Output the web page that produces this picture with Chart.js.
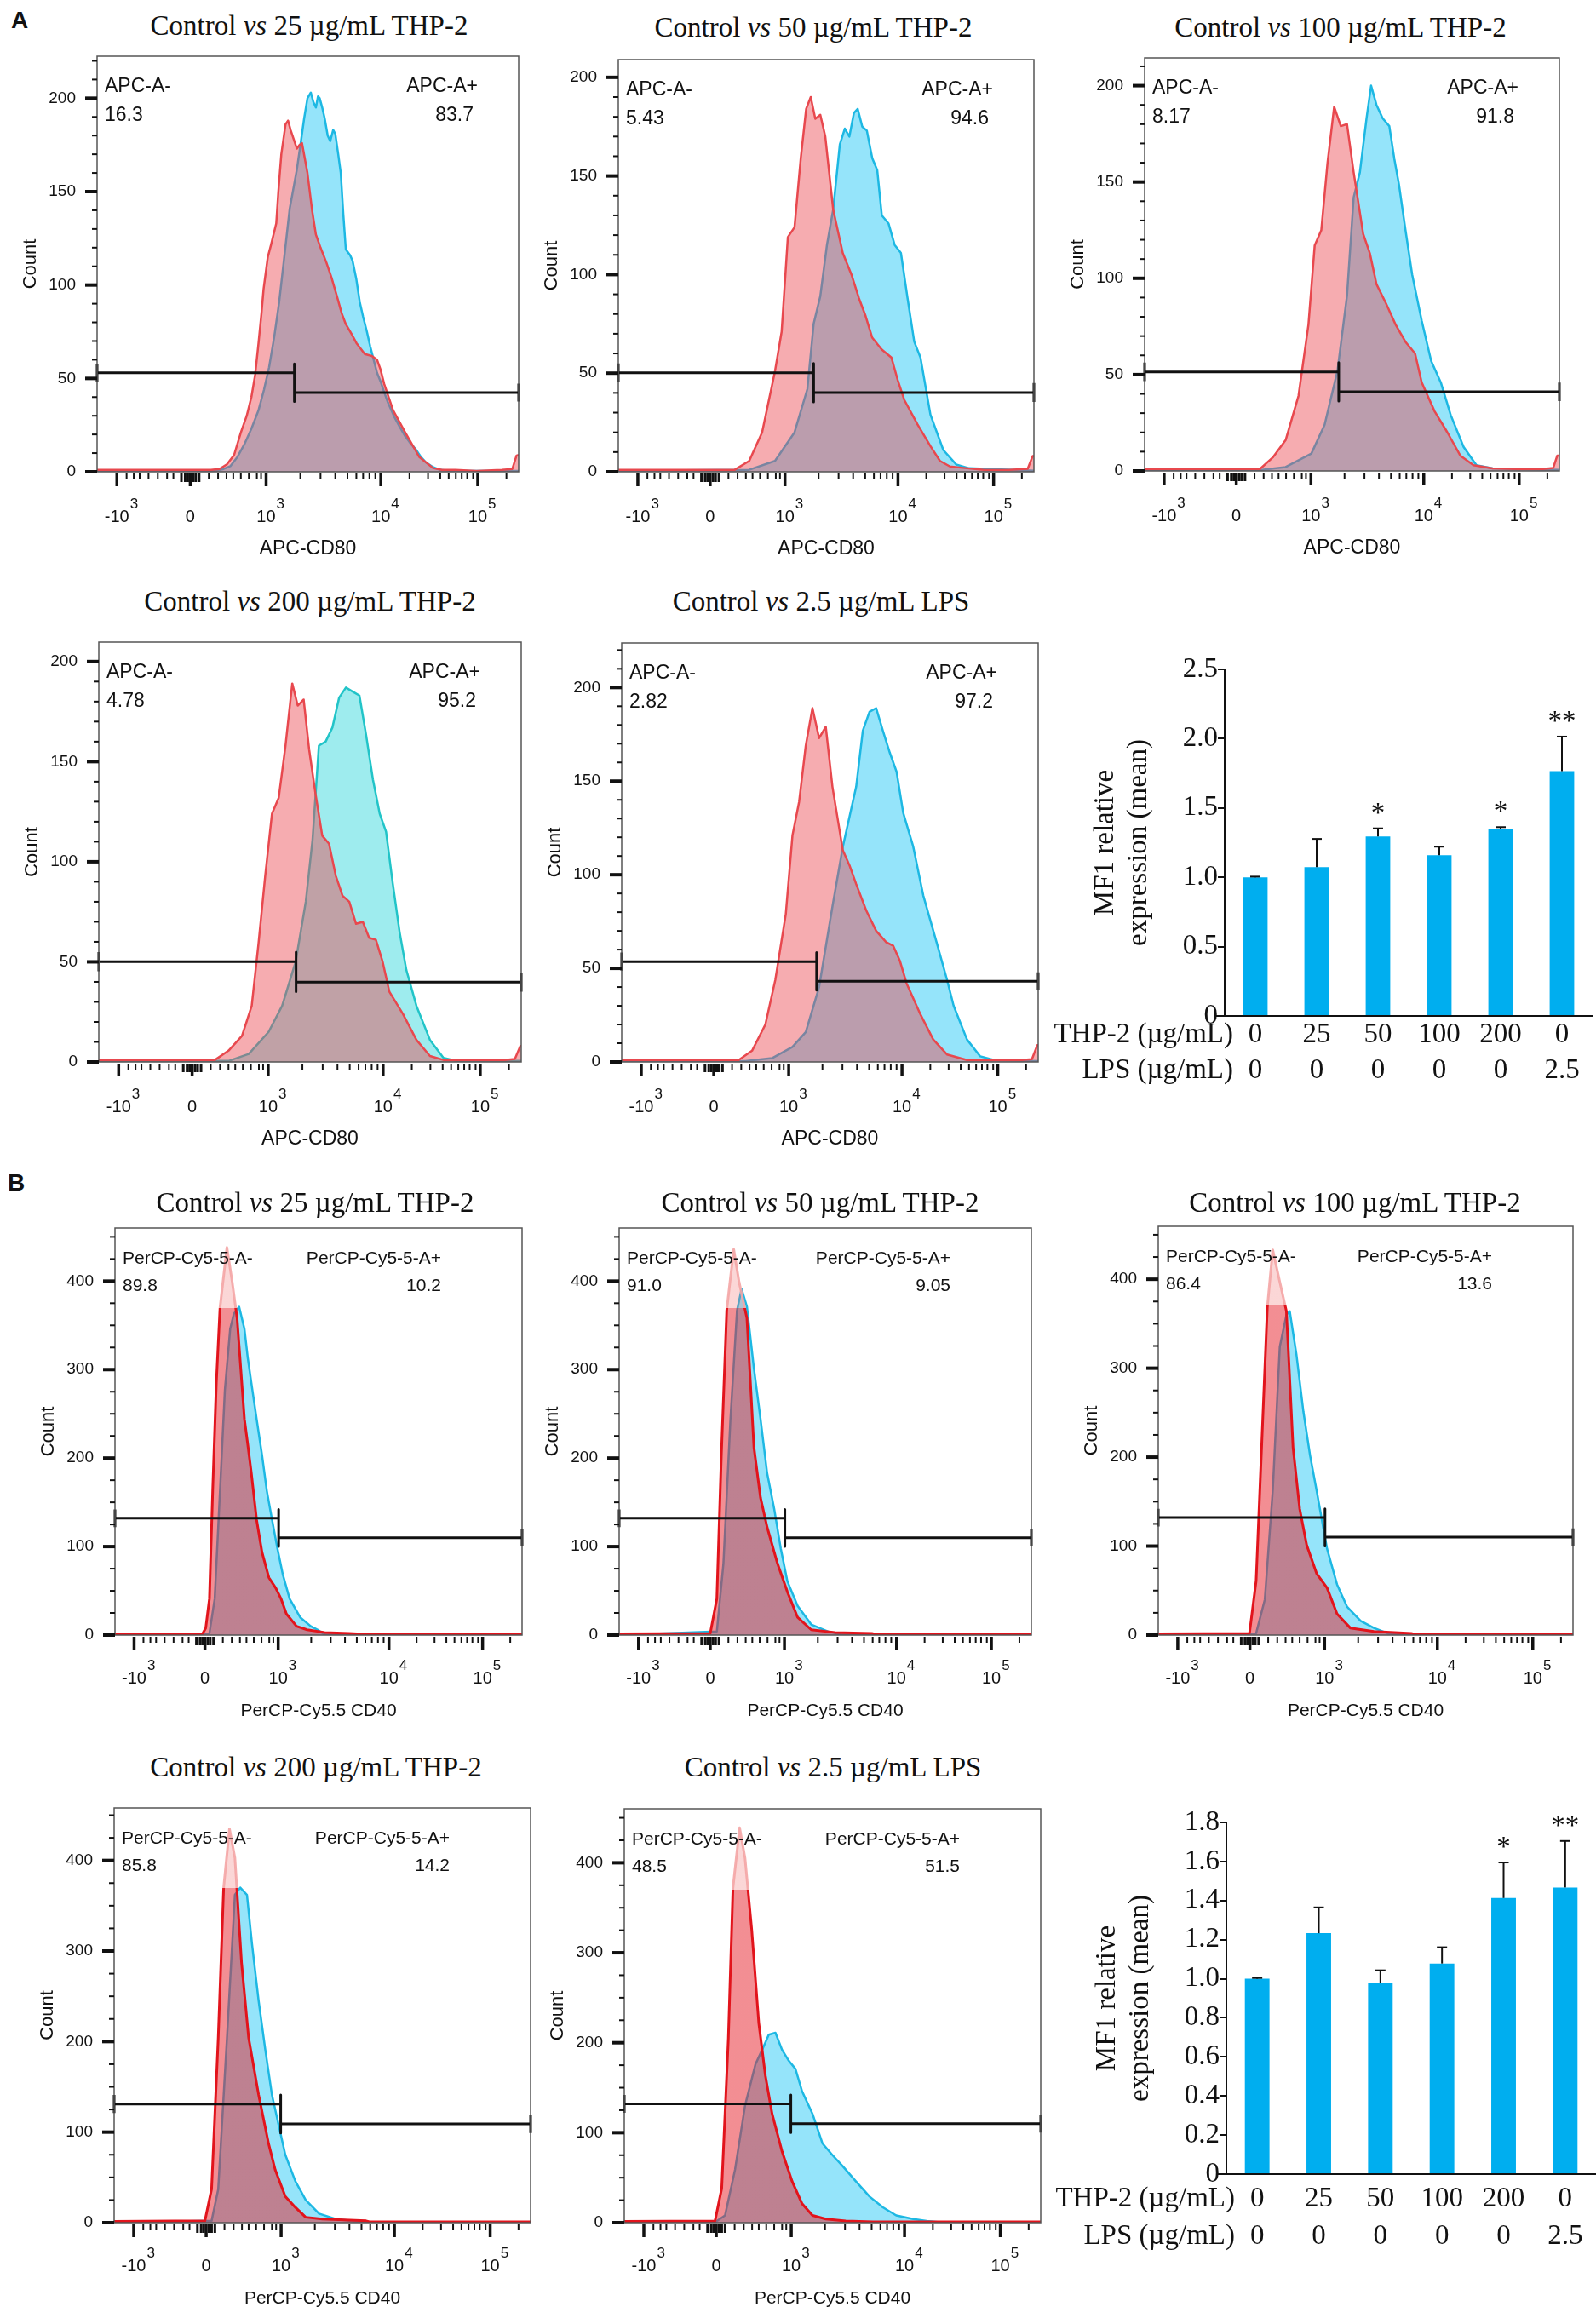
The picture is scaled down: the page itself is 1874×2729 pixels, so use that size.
<!DOCTYPE html>
<html>
<head>
<meta charset="utf-8">
<title>THP-2 CD80 / CD40 flow cytometry</title>
<script src="https://cdn.jsdelivr.net/npm/chart.js@4.4.1/dist/chart.umd.min.js"></script>
<style>
  body { margin: 0; background: #fff; }
  #page { position: relative; width: 1874px; height: 2729px; overflow: hidden; background: #fff; }
  .cv { position: absolute; }
  .ttl { position: absolute; transform: translate(-50%, -50%); font: 33px 'Liberation Serif', 'Times New Roman', serif; white-space: nowrap; color: #111; }
  .lbl { position: absolute; font: bold 28px 'Liberation Sans', Arial, sans-serif; color: #111; }
</style>
</head>
<body>
<div id="page">
  <div class="lbl" style="left:13px;top:8px">A</div>
  <div class="lbl" style="left:9px;top:1373px">B</div>
</div>
<script>
// ---------- x axis of the flow histograms (biexponential display, channel 0-1000) ----------
const xMajorAt = [47, 221, 401, 673, 903];
const xMajorBase = ['-10', '0', '10', '10', '10'];
const xMajorSup = ['3', '', '3', '4', '5'];
const xMinorAt = [70, 87, 101, 122, 144, 166, 181, 265, 287, 307, 323, 341, 360, 379, 389, 482, 530, 565, 594, 615, 631, 646, 660, 741, 785, 814, 834, 851, 865, 878, 892, 971];
const xZeroAt = [200, 209, 215, 228, 234, 242];

const titleDoses = ['25 µg/mL THP-2', '50 µg/mL THP-2', '100 µg/mL THP-2', '200 µg/mL THP-2', '2.5 µg/mL LPS'];

// ---------- A: APC-CD80 histograms (control = red, treated = blue) ----------
const a1CtrlX = [0,270,290,308,325,341,355,366,375,383,390,395,405,412,425,430,437,447,453,459,474,480,486,499,510,519,530,544,556,569,580,590,603,615,635,652,664,672,681,702,731,764,797,818,850,900,960,985,995,1000];
const a1CtrlY = [1,1,1.5,4,9,21,30,40,52,69,85,98,115,121,133,150,170,186,188,183,173,175,176,160,140,127,120,112,104,94,85,79,74,69,63,62,60,55,47,33,21,8,2,1,1,0.5,1,1.5,8.7,9];
const a1TrtX = [0,280,300,316,333,350,366,383,396,408,420,432,444,457,466,474,483,491,499,507,513,519,524,528,534,540,547,553,560,565,572,578,584,590,600,606,615,623,631,640,648,656,664,673,682,690,706,718,731,744,756,768,780,797,814,840,1000];
const a1TrtY = [0,0.5,1.5,3,8,15,23,33,44,56,72,91,115,141,152,162,176,189,200,203,198,195,201,200,195,189,180,177,183,181,170,160,138,119,116,113,103,91,83,75,67,60,53,48,42,37,29,24,19,15,12,8,5,2.5,1,0.5,0.5];

const a2CtrlX = [0,280,315,346,377,393,408,424,439,452,463,474,486,498,517,540,561,579,595,611,634,657,673,688,720,751,774,798,829,880,940,985,997,1000];
const a2CtrlY = [1,1,5.5,20,51,71,119,124,159,184,190,179,181,170,133,111,100,88,79,68,62,58,46,36.5,24,13,5.5,2.7,2,1,1,1.5,8,8];
const a2TrtX = [0,315,377,424,455,470,486,502,517,533,545,556,567,576,587,598,611,623,634,650,665,680,696,712,727,751,782,813,844,1000];
const a2TrtY = [0.5,1,5.5,20,42,75,89,115,133,166,174,170,182,184,175,173,159,153,130,126,115,111,88,66,58,29,11,3.7,1.8,0.5];

const a3CtrlX = [0,278,309,340,371,395,410,426,441,457,473,488,504,527,543,559,582,605,629,652,668,699,730,761,793,839,900,960,985,995,1000];
const a3CtrlY = [1,1,7,16,39,76,117,125,160,189,179,180,155,123,113,97,87,76,67,61,46,31,20,8,3,1.3,1,1,1.5,8,8];
const a3TrtX = [0,278,340,402,434,465,488,504,519,535,546,559,574,590,602,613,629,645,668,691,714,738,769,800,839,1000];
const a3TrtY = [0.5,0.5,2,9,24,52,91,142,155,183,200,190,183,179,162,149,125,102,78,57,46,29,12.5,3,1.3,0.5];

const a4CtrlX = [0,275,307,339,362,378,394,410,426,442,458,471,485,498,513,529,545,561,577,593,609,625,640,656,672,688,720,752,784,816,900,960,985,998,1000];
const a4CtrlY = [1,1,5.6,13,28,59,93,124,132,158,189,178,181,156,134,113,109,93,83,80,69,70,62,61,50,35,24,11,3,1,1,1,1.5,8,8];
const a4TrtX = [0,307,355,402,434,466,490,506,521,537,553,569,585,601,617,633,649,665,680,696,712,728,752,784,816,847,1000];
const a4TrtY = [0.5,0.5,4,15,28,50,80,111,158,160,167,182,187,185,183,163,141,124,115,89,65,46,28,11,2,0.5,0.5];

const a5CtrlX = [0,281,313,345,369,394,410,426,442,458,474,490,506,531,547,563,587,611,635,652,668,684,716,748,781,829,900,960,985,998,1000];
const a5CtrlY = [1,1,6,20,44,79,121,139,169,189,173,179,147,113,105,95,81,70,64,62,54,42,26,12,4,1,1,1,1.5,9,9];
const a5TrtX = [0,297,361,410,442,474,506,531,547,563,579,595,611,627,644,660,676,700,724,756,781,797,829,861,894,1000];
const a5TrtY = [0.5,0.5,2,8,16,40,83,115,131,147,177,187,189,177,165,155,133,115,89,64,44,30,12,3,1,0.5];

const aGateSplit = [468, 470, 468, 467, 468];
const aGateNegY = [53, 50.2, 51.4, 50.1, 53.6];
const aGatePosY = [42.4, 40.2, 41.1, 39.9, 43.1];
const aNegPct = ['16.3', '5.43', '8.17', '4.78', '2.82'];
const aPosPct = ['83.7', '94.6', '91.8', '95.2', '97.2'];

// ---------- B: PerCP-Cy5.5 CD40 histograms ----------
const b1CtrlX = [0,215,223,232,240,249,258,275,288,300,309,318,326,335,348,361,378,395,408,421,446,472,515,575,614,1000];
const b1CtrlY = [1.5,1.5,8,41,163,285,370,438,399,358,301,244,216,183,130,94,65,53,41,24,10,6,3,2,1,1];
const b1TrtX = [0,232,245,258,270,283,292,305,318,326,335,348,361,373,386,399,412,429,455,481,498,515,1000];
const b1TrtY = [0,2,41,163,277,346,363,371,346,314,285,244,204,163,130,98,69,41,20,10,6,0.5,0.5];

const b2CtrlX = [0,221,237,248,261,278,291,310,327,343,359,384,408,433,466,523,613,621,1000];
const b2CtrlY = [1.5,2,41,204,367,436,399,358,212,155,122,81,49,20,6,3,2,1,1];
const b2TrtX = [0,237,253,270,286,297,310,327,343,359,376,392,408,433,466,507,539,1000];
const b2TrtY = [0,4,81,244,367,391,371,301,244,183,143,98,61,33,12,4,0.5,0.5];

const b3CtrlX = [0,220,236,252,263,276,293,309,325,341,358,382,407,431,463,520,610,618,1000];
const b3CtrlY = [1.5,2,61,243,368,433,397,364,211,142,101,69,53,24,8,4,2,1,1];
const b3TrtX = [0,236,257,276,293,309,317,333,350,366,382,407,431,455,488,520,553,585,1000];
const b3TrtY = [0,2,40,162,324,360,364,316,251,202,162,97,57,32,16,8,2,0.5,0.5];

const b4CtrlX = [0,218,234,250,263,277,290,306,323,347,371,387,411,435,460,500,605,613,1000];
const b4CtrlY = [1.5,2,37,204,370,435,403,287,204,141,87,58,29,17,6,4,2,1,1];
const b4TrtX = [0,234,250,271,290,303,319,331,347,363,379,395,411,435,460,492,532,597,1000];
const b4TrtY = [0,2,37,204,362,370,362,308,245,191,141,108,75,46,25,10,4,0.5,0.5];

const b5CtrlX = [0,218,234,250,261,277,290,306,323,339,355,379,403,427,452,484,532,597,1000];
const b5CtrlY = [1.5,2,38,205,372,439,405,326,222,163,121,79,46,21,8,4,2,1,1];
const b5TrtX = [0,218,242,266,290,315,331,347,363,379,395,411,427,452,476,500,524,556,589,621,653,694,726,758,1000];
const b5TrtY = [0,0.5,8,59,130,176,192,209,211,192,180,171,146,121,88,75,63,46,29,17,8,4,2,0.5,0.5];

const bSaturation = 370;   // control trace is saturated (pale) above this count
const bGateSplit = [402, 402, 402, 400, 400];
const bGateNegY = [132, 132, 132, 131, 132];
const bGatePosY = [110, 110, 110, 109, 110];
const bNegPct = ['89.8', '91.0', '86.4', '85.8', '48.5'];
const bPosPct = ['10.2', '9.05', '13.6', '14.2', '51.5'];

// ---------- MFI bar charts ----------
const thpDose = ['0', '25', '50', '100', '200', '0'];
const lpsDose = ['0', '0', '0', '0', '0', '2.5'];
const aMfi = [1.0, 1.074, 1.294, 1.16, 1.345, 1.766];
const aSd = [0.005, 0.203, 0.059, 0.061, 0.017, 0.249];
const aSig = ['', '', '*', '', '*', '**'];
const bMfi = [1.0, 1.233, 0.978, 1.078, 1.413, 1.467];
const bSd = [0.004, 0.132, 0.065, 0.083, 0.182, 0.238];
const bSig = ['', '', '', '', '*', '**'];

// ---------- layout ----------
const layoutA = [
  { L: 114, T: 66, R: 609, y0: 554, ymax: 222.5, tx: 363, ty: 30 },
  { L: 726, T: 70, R: 1214, y0: 554, ymax: 209, tx: 955, ty: 32 },
  { L: 1344, T: 68, R: 1831, y0: 553, ymax: 214.4, tx: 1574, ty: 32 },
  { L: 116, T: 754, R: 612, y0: 1247, ymax: 209.7, tx: 364, ty: 706 },
  { L: 730, T: 755, R: 1219, y0: 1247, ymax: 223.8, tx: 964, ty: 706 }
];
const layoutB = [
  { L: 135, T: 1442, R: 613, y0: 1920, ymax: 460, tx: 370, ty: 1412 },
  { L: 727, T: 1442, R: 1211, y0: 1920, ymax: 460, tx: 963, ty: 1412 },
  { L: 1360, T: 1440, R: 1847, y0: 1920, ymax: 459.5, tx: 1591, ty: 1412 },
  { L: 134, T: 2123, R: 623, y0: 2610, ymax: 458, tx: 371, ty: 2075 },
  { L: 733, T: 2124, R: 1222, y0: 2610, ymax: 460, tx: 978, ty: 2075 }
];

const SANS = '"Liberation Sans", Arial, sans-serif';
const SERIF = '"Liberation Serif", "Times New Roman", serif';
const page = document.getElementById('page');

function pts(xs, ys) {
  return xs.map((x, i) => ({ x: x, y: ys[i] }));
}

function gatePts(split, negY, posY, cap) {
  return [
    { x: 0, y: negY - cap }, { x: 0, y: negY + cap }, { x: 0, y: null },
    { x: 0, y: negY }, { x: split, y: negY }, { x: split, y: null },
    { x: split, y: negY + cap }, { x: split, y: posY - cap }, { x: split, y: null },
    { x: split, y: posY }, { x: 1000, y: posY }, { x: 1000, y: null },
    { x: 1000, y: posY - cap }, { x: 1000, y: posY + cap }
  ];
}

function addCanvas(left, top, w, h) {
  const c = document.createElement('canvas');
  c.width = w; c.height = h;
  c.className = 'cv';
  c.style.left = left + 'px'; c.style.top = top + 'px';
  c.style.width = w + 'px'; c.style.height = h + 'px';
  page.appendChild(c);
  return c;
}

function addTitle(x, y, dose) {
  const d = document.createElement('div');
  d.className = 'ttl';
  d.style.left = x + 'px'; d.style.top = y + 'px';
  d.appendChild(document.createTextNode('Control '));
  const i = document.createElement('i');
  i.textContent = 'vs';
  d.appendChild(i);
  d.appendChild(document.createTextNode(' ' + dose));
  page.appendChild(d);
}

// pale fill above the saturation level, solid below
function capGrad(ctx, below, above) {
  const c = ctx.chart, a = c.chartArea;
  if (!a) return below;
  const py = c.scales.y.getPixelForValue(bSaturation);
  const f = Math.min(1, Math.max(0, (py - a.top) / (a.bottom - a.top)));
  const g = c.ctx.createLinearGradient(0, a.top, 0, a.bottom);
  g.addColorStop(0, above); g.addColorStop(f, above);
  g.addColorStop(f, below); g.addColorStop(1, below);
  return g;
}

const flowDeco = {
  id: 'flowDeco',
  afterDraw(chart, args, o) {
    const { ctx, chartArea: a, scales: { x, y } } = chart;
    ctx.save();
    ctx.strokeStyle = '#555'; ctx.lineWidth = 1.5;
    ctx.strokeRect(a.left, a.top, a.right - a.left, a.bottom - a.top);

    // y ticks
    ctx.strokeStyle = '#111'; ctx.fillStyle = '#111';
    ctx.font = '19px ' + SANS;
    ctx.textAlign = 'right'; ctx.textBaseline = 'middle';
    for (let v = 0; v <= o.ymax; v += o.minor) {
      const py = y.getPixelForValue(v);
      const major = v % o.major === 0;
      ctx.lineWidth = major ? 4 : 2;
      ctx.beginPath(); ctx.moveTo(a.left, py); ctx.lineTo(a.left - (major ? 14 : 6), py); ctx.stroke();
      if (major) ctx.fillText(String(v), a.left - 25, py);
    }

    // x ticks
    const tick = (v, len, lw) => {
      const px = x.getPixelForValue(v);
      ctx.lineWidth = lw;
      ctx.beginPath(); ctx.moveTo(px, a.bottom + 2); ctx.lineTo(px, a.bottom + 2 + len); ctx.stroke();
    };
    xMinorAt.forEach(v => tick(v, 7, 2));
    xZeroAt.forEach(v => tick(v, 10, 3));
    xMajorAt.forEach(v => tick(v, 15, 3.5));

    xMajorAt.forEach((v, i) => {
      const px = x.getPixelForValue(v);
      ctx.font = '20px ' + SANS;
      ctx.textAlign = 'center';
      ctx.fillText(xMajorBase[i], px, a.bottom + o.baseDy);
      if (xMajorSup[i]) {
        const wb = ctx.measureText(xMajorBase[i]).width;
        ctx.font = '17px ' + SANS;
        ctx.textAlign = 'left';
        ctx.fillText(xMajorSup[i], px + wb / 2 + 1, a.bottom + o.supDy);
      }
    });

    // axis titles
    ctx.textAlign = 'center';
    ctx.font = o.xTitleSize + 'px ' + SANS;
    ctx.fillText(o.xTitle, (a.left + a.right) / 2, a.bottom + o.xTitleDy);
    ctx.save();
    ctx.translate(a.left - 78, (a.top + a.bottom) / 2);
    ctx.rotate(-Math.PI / 2);
    ctx.font = '22px ' + SANS;
    ctx.fillText('Count', 0, 0);
    ctx.restore();

    // gate labels
    ctx.font = o.gateSize + 'px ' + SANS;
    ctx.textAlign = 'left';
    ctx.fillText(o.negName, a.left + 9, a.top + 36);
    ctx.fillText(o.negPct, a.left + 9, a.top + o.pctDy);
    ctx.textAlign = 'right';
    ctx.fillText(o.posName, a.right - o.posNameRight, a.top + 36);
    ctx.fillText(o.posPct, a.right - o.posPctRight, a.top + o.pctDy);
    ctx.restore();
  }
};

const PADL = 110, PADT = 12, PADR = 22, PADB = 118;

function flowPanel(p, ctrl, trt, gate, style, deco) {
  const w = p.R - p.L + PADL + PADR;
  const h = p.y0 - p.T + PADT + PADB;
  const cv = addCanvas(p.L - PADL, p.T - PADT, w, h);
  new Chart(cv, {
    type: 'line',
    data: {
      datasets: [
        { data: ctrl, borderColor: style.ctrlLine, backgroundColor: style.ctrlFill, borderWidth: style.ctrlWidth, fill: 'origin', order: 1 },
        { data: trt, borderColor: style.trtLine, backgroundColor: style.trtFill, borderWidth: 2.5, fill: 'origin', order: 2 },
        { data: gate, borderColor: '#111', borderWidth: 3, fill: false, order: 0, clip: false, spanGaps: false }
      ]
    },
    options: {
      responsive: false,
      animation: false,
      devicePixelRatio: 1,
      events: [],
      layout: { padding: { left: PADL, top: PADT, right: PADR, bottom: PADB } },
      elements: { line: { tension: 0, borderJoinStyle: 'round' }, point: { radius: 0 } },
      scales: {
        x: { type: 'linear', min: 0, max: 1000, display: false },
        y: { min: 0, max: p.ymax, display: false }
      },
      plugins: { legend: { display: false }, tooltip: { enabled: false }, flowDeco: Object.assign({ ymax: p.ymax }, deco) }
    },
    plugins: [flowDeco]
  });
  addTitle(p.tx, p.ty, deco.dose);
}

const styleA = { ctrlLine: '#E8484E', ctrlFill: 'rgba(236,70,80,0.45)', ctrlWidth: 2.5, trtLine: '#1DB8E3', trtFill: 'rgba(20,195,245,0.45)' };
const styleA4 = Object.assign({}, styleA, { trtLine: '#22C4C8', trtFill: 'rgba(40,212,218,0.45)' });
const styleB = {
  ctrlLine: ctx => capGrad(ctx, '#E2141C', 'rgba(244,165,165,0.9)'),
  ctrlFill: ctx => capGrad(ctx, 'rgba(230,30,40,0.5)', 'rgba(240,110,110,0.28)'),
  ctrlWidth: 3, trtLine: '#1DB8E3', trtFill: 'rgba(20,195,245,0.45)'
};

const aCtrl = [pts(a1CtrlX, a1CtrlY), pts(a2CtrlX, a2CtrlY), pts(a3CtrlX, a3CtrlY), pts(a4CtrlX, a4CtrlY), pts(a5CtrlX, a5CtrlY)];
const aTrt = [pts(a1TrtX, a1TrtY), pts(a2TrtX, a2TrtY), pts(a3TrtX, a3TrtY), pts(a4TrtX, a4TrtY), pts(a5TrtX, a5TrtY)];
const bCtrl = [pts(b1CtrlX, b1CtrlY), pts(b2CtrlX, b2CtrlY), pts(b3CtrlX, b3CtrlY), pts(b4CtrlX, b4CtrlY), pts(b5CtrlX, b5CtrlY)];
const bTrt = [pts(b1TrtX, b1TrtY), pts(b2TrtX, b2TrtY), pts(b3TrtX, b3TrtY), pts(b4TrtX, b4TrtY), pts(b5TrtX, b5TrtY)];

layoutA.forEach((p, i) => {
  flowPanel(p, aCtrl[i], aTrt[i], gatePts(aGateSplit[i], aGateNegY[i], aGatePosY[i], 4.8),
    i === 3 ? styleA4 : styleA,
    { dose: titleDoses[i], major: 50, minor: 10, negName: 'APC-A-', posName: 'APC-A+', negPct: aNegPct[i], posPct: aPosPct[i],
      posNameRight: 48, posPctRight: 53, pctDy: 70, gateSize: 23, xTitle: 'APC-CD80', xTitleSize: 23, xTitleDy: 91, baseDy: 53, supDy: 38 });
});
layoutB.forEach((p, i) => {
  flowPanel(p, bCtrl[i], bTrt[i], gatePts(bGateSplit[i], bGateNegY[i], bGatePosY[i], 10), styleB,
    { dose: titleDoses[i], major: 100, minor: 25, negName: 'PerCP-Cy5-5-A-', posName: 'PerCP-Cy5-5-A+', negPct: bNegPct[i], posPct: bPosPct[i],
      posNameRight: 95, posPctRight: 95, pctDy: 68, gateSize: 21, xTitle: 'PerCP-Cy5.5 CD40', xTitleSize: 21, xTitleDy: 89, baseDy: 51, supDy: 36 });
});

// ---------- bar charts ----------
const barDeco = {
  id: 'barDeco',
  afterDatasetsDraw(chart, args, o) {
    const { ctx, chartArea: a, scales: { x, y } } = chart;
    ctx.save();
    ctx.strokeStyle = '#111'; ctx.fillStyle = '#111'; ctx.lineWidth = 2;
    o.means.forEach((m, i) => {
      const px = x.getPixelForValue(i);
      const pTop = y.getPixelForValue(m);
      const pErr = y.getPixelForValue(m + o.sds[i]);
      ctx.beginPath(); ctx.moveTo(px, pTop); ctx.lineTo(px, pErr); ctx.stroke();
      ctx.beginPath(); ctx.moveTo(px - 6, pErr); ctx.lineTo(px + 6, pErr); ctx.stroke();
      if (o.sig[i]) {
        ctx.font = '33px ' + SERIF;
        ctx.textAlign = 'center'; ctx.textBaseline = 'alphabetic';
        ctx.fillText(o.sig[i], px, pErr - 8);
      }
    });
    // x axis line runs a little past the y axis
    ctx.beginPath(); ctx.moveTo(a.left - 10, a.bottom); ctx.lineTo(a.left, a.bottom); ctx.stroke();
    // row headers of the two-line category labels
    ctx.font = '33px ' + SERIF;
    ctx.textAlign = 'right'; ctx.textBaseline = 'middle';
    ctx.fillText('THP-2 (µg/mL)', a.left + 10, a.bottom + o.row1);
    ctx.fillText('LPS (µg/mL)', a.left + 10, a.bottom + o.row2);
    // two-line y title
    const mid = (a.top + a.bottom) / 2;
    ['MF1 relative', 'expression (mean)'].forEach((t, k) => {
      ctx.save();
      ctx.translate(a.left - (k === 0 ? 140 : 101), mid);
      ctx.rotate(-Math.PI / 2);
      ctx.textAlign = 'center';
      ctx.fillText(t, 0, 0);
      ctx.restore();
    });
    ctx.restore();
  }
};

function barPanel(b, means, sds, sig, yMax, yStep) {
  const cv = addCanvas(b.left, b.top, b.w, b.h);
  const labels = thpDose.map((t, i) => [t, lpsDose[i]]);
  new Chart(cv, {
    type: 'bar',
    data: { labels: labels, datasets: [{ data: means, backgroundColor: '#00AEEF', barPercentage: 0.4, categoryPercentage: 1 }] },
    options: {
      responsive: false,
      animation: false,
      devicePixelRatio: 1,
      events: [],
      layout: { padding: { left: 0, top: b.axisTop - b.top, right: b.left + b.w - b.axisRight, bottom: 0 } },
      scales: {
        x: {
          grid: { display: false, drawTicks: false },
          border: { display: true, color: '#111', width: 2 },
          ticks: { color: '#111', padding: b.tickPad, font: { family: SERIF, size: 33, lineHeight: b.lineH }, maxRotation: 0, autoSkip: false },
          afterFit: s => { s.height = b.top + b.h - b.axisBottom; }
        },
        y: {
          min: 0, max: yMax,
          grid: { drawOnChartArea: false, drawTicks: true, tickLength: 8, color: '#111', lineWidth: 2 },
          border: { display: true, color: '#111', width: 2 },
          ticks: { stepSize: yStep, color: '#111', padding: 0, font: { family: SERIF, size: 33 },
                   callback: v => (v === 0 ? '0' : Number(v).toFixed(1)) },
          afterFit: s => { s.width = b.axisLeft - b.left; }
        }
      },
      plugins: { legend: { display: false }, tooltip: { enabled: false },
                 barDeco: { means: means, sds: sds, sig: sig, row1: b.row1, row2: b.row2 } }
    },
    plugins: [barDeco]
  });
}

barPanel({ left: 1220, top: 756, w: 654, h: 532, axisLeft: 1438, axisTop: 786, axisBottom: 1193, axisRight: 1870,
           tickPad: 2, lineH: 1.25, row1: 22.6, row2: 64 }, aMfi, aSd, aSig, 2.5, 0.5);
barPanel({ left: 1220, top: 2110, w: 654, h: 553, axisLeft: 1440, axisTop: 2140, axisBottom: 2553, axisRight: 1874,
           tickPad: 7, lineH: 1.33, row1: 29, row2: 73 }, bMfi, bSd, bSig, 1.8, 0.2);
</script>
</body>
</html>
